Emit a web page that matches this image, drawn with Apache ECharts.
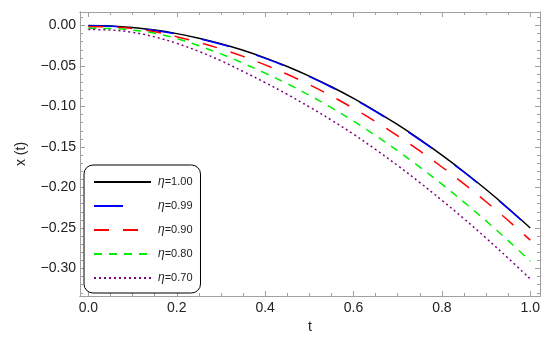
<!DOCTYPE html>
<html>
<head>
<meta charset="utf-8">
<script src="https://cdn.jsdelivr.net/npm/echarts@6/dist/echarts.min.js"></script>
<style>
  html, body { margin: 0; padding: 0; background: #fff; }
  #chart { width: 556px; height: 341px; }
</style>
</head>
<body>
<div id="chart"></div>
<script>
// time samples
const tVals = [0, 0.05, 0.1, 0.15, 0.2, 0.25, 0.3, 0.35, 0.4, 0.45, 0.5,
  0.55, 0.6, 0.65, 0.7, 0.75, 0.8, 0.85, 0.9, 0.95, 1.0];

const eta100 = [0, -0.0006, -0.0025, -0.0056, -0.0100, -0.0156, -0.0225, -0.0306, -0.0400, -0.0506, -0.0625,
  -0.0756, -0.0900, -0.1056, -0.1225, -0.1406, -0.1600, -0.1806, -0.2025, -0.2256, -0.2500];
const eta099 = [-0.0003, -0.0009, -0.0029, -0.0061, -0.0105, -0.0162, -0.0231, -0.0312, -0.0406, -0.0512, -0.0631,
  -0.0762, -0.0906, -0.1062, -0.1231, -0.1412, -0.1606, -0.1812, -0.2031, -0.2262, -0.2506];
const eta090 = [-0.0015, -0.0017, -0.0037, -0.0078, -0.0138, -0.0208, -0.0289, -0.0381, -0.0486, -0.0602, -0.0731,
  -0.0871, -0.1024, -0.1187, -0.1363, -0.1549, -0.1747, -0.1956, -0.2176, -0.2408, -0.2650];
const eta080 = [-0.0035, -0.0036, -0.0057, -0.0095, -0.0160, -0.0250, -0.0350, -0.0465, -0.0588, -0.0718, -0.0861,
  -0.1015, -0.1181, -0.1359, -0.1548, -0.1748, -0.1959, -0.2181, -0.2413, -0.2656, -0.2910];
const eta070 = [-0.0050, -0.0055, -0.0085, -0.0140, -0.0220, -0.0320, -0.0435, -0.0567, -0.0705, -0.0850, -0.1005,
  -0.1168, -0.1342, -0.1531, -0.1730, -0.1939, -0.2158, -0.2386, -0.2625, -0.2873, -0.3130];

const seriesNames = ["η=1.00", "η=0.99", "η=0.90", "η=0.80", "η=0.70"];

const xTicks = [0, 0.2, 0.4, 0.6, 0.8, 1.0];
const yTicks = [0, -0.05, -0.10, -0.15, -0.20, -0.25, -0.30];

// minor ticks: 0.05 steps on t, 0.01 steps on x(t)
const xMinor = [];
for (let i = 0; i <= 20; i++) { if (i % 4 !== 0) xMinor.push(i * 0.05); }
const yMinor = [];
for (let i = 1; i >= -33; i--) { if (i % 5 !== 0) yMinor.push(i * 0.01); }

const FONT = "Liberation Sans";
const frameColor = "#a0a0a0";
const xMin = -0.019, xMax = 1.022;
const yMin = -0.334, yMax = 0.0167;

function frameAxis(kind, position, ticks, len, labels) {
  const isX = kind === "x";
  return {
    type: "value",
    position: position,
    min: isX ? xMin : yMin,
    max: isX ? xMax : yMax,
    axisLine: { show: true, onZero: false, lineStyle: { color: frameColor, width: 1 } },
    axisTick: { show: true, inside: true, length: len, customValues: ticks,
      lineStyle: { color: frameColor, width: 1 } },
    axisLabel: labels ? {
      show: true, customValues: ticks, fontFamily: FONT, fontSize: 14, color: "#222",
      margin: isX ? 5 : 4,
      formatter: (v) => (isX ? v.toFixed(1) : v.toFixed(2)).replace("-", "\u2212")
    } : { show: false },
    splitLine: { show: false },
  };
}

const xAxis = [
  Object.assign(frameAxis("x", "bottom", xTicks, 5, true), {
    name: "t", nameLocation: "middle", nameGap: 22,
    nameTextStyle: { fontFamily: FONT, fontSize: 14, color: "#222" }
  }),
  frameAxis("x", "bottom", xMinor, 3, false),
  frameAxis("x", "top", xTicks, 5, false),
  frameAxis("x", "top", xMinor, 3, false),
];
const yAxis = [
  Object.assign(frameAxis("y", "left", yTicks, 5, true), {
    name: "x (t)", nameLocation: "middle", nameGap: 52, nameRotate: 90,
    nameTextStyle: { fontFamily: FONT, fontSize: 14, color: "#222" }
  }),
  frameAxis("y", "left", yMinor, 3, false),
  frameAxis("y", "right", yTicks, 5, false),
  frameAxis("y", "right", yMinor, 3, false),
];

function curve(name, values, color, dash) {
  return {
    type: "line",
    name: name,
    xAxisIndex: 0,
    yAxisIndex: 0,
    data: tVals.map((t, i) => [t, values[i]]),
    smooth: 0.4,
    symbol: "none",
    lineStyle: { color: color, width: 1.5, type: dash },
    itemStyle: { color: color },
    z: 3,
  };
}

const option = {
  animation: false,
  backgroundColor: "#fff",
  grid: { left: 80, top: 12, width: 460, height: 284, outerBoundsMode: "none" },
  xAxis: xAxis,
  yAxis: yAxis,
  legend: {
    data: seriesNames,
    orient: "vertical",
    left: 84,
    top: 165,
    itemWidth: 57,
    itemHeight: 14,
    itemGap: 12,
    padding: [11, 8, 9, 9],
    borderColor: "#000",
    borderWidth: 1,
    borderRadius: 9,
    backgroundColor: "#fff",
    // hide the marker the line legend draws in the middle of the stroke
    itemStyle: { color: "transparent", borderColor: "transparent", borderWidth: 0, opacity: 0 },
    formatter: (n) => "{i|η}{n|" + n.slice(1) + "}",
    textStyle: {
      fontFamily: FONT, fontSize: 11, color: "#222", padding: [0, 0, 0, 2],
      rich: {
        i: { fontFamily: FONT, fontSize: 12, fontStyle: "italic", color: "#222" },
        n: { fontFamily: FONT, fontSize: 11, color: "#222" },
      },
    },
  },
  series: [
    curve(seriesNames[0], eta100, "#000000", "solid"),
    curve(seriesNames[1], eta099, "#0000ff", [29, 28]),
    curve(seriesNames[2], eta090, "#ff0000", [15, 14]),
    curve(seriesNames[3], eta080, "#00ee00", [8, 7]),
    curve(seriesNames[4], eta070, "#800080", [2, 3]),
  ],
};

const myChart = echarts.init(document.getElementById("chart"), null, { renderer: "canvas" });
myChart.setOption(option);
window.addEventListener("resize", () => {
  myChart.resize();
});
</script>
</body>
</html>
